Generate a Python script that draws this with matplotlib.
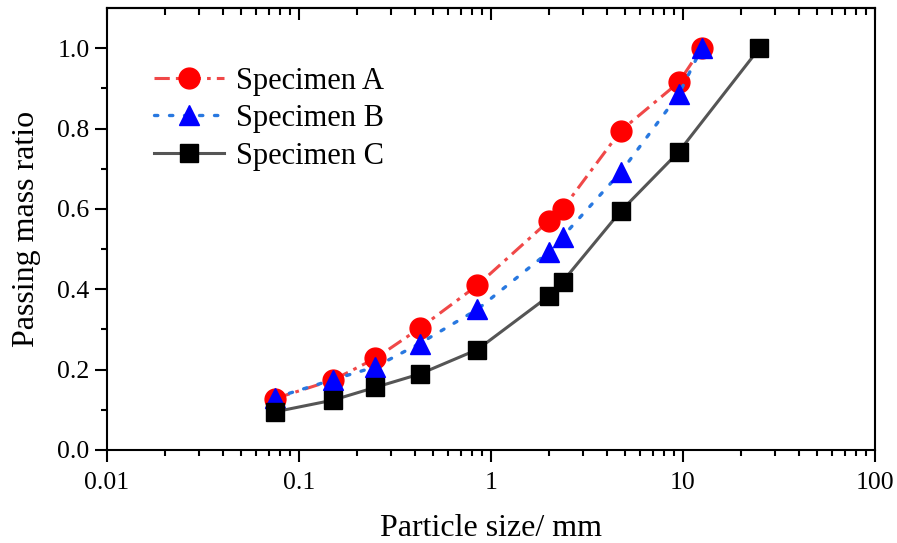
import matplotlib
matplotlib.use("Agg")
import matplotlib.pyplot as plt
from matplotlib.ticker import FixedLocator, FixedFormatter, FormatStrFormatter

plt.rcParams['font.family'] = ['Liberation Serif', 'DejaVu Serif']

# sieve sizes (mm) and passing mass ratios
size_a = [0.075, 0.15, 0.25, 0.425, 0.85, 2.0, 2.36, 4.75, 9.5, 12.5]
pass_a = [0.128, 0.174, 0.228, 0.303, 0.410, 0.570, 0.600, 0.795, 0.915, 1.0]

size_b = [0.075, 0.15, 0.25, 0.425, 0.85, 2.0, 2.36, 4.75, 9.5, 12.5]
pass_b = [0.130, 0.175, 0.207, 0.265, 0.350, 0.493, 0.531, 0.692, 0.885, 1.0]

size_c = [0.075, 0.15, 0.25, 0.425, 0.85, 2.0, 2.36, 4.75, 9.5, 25.0]
pass_c = [0.095, 0.124, 0.156, 0.189, 0.250, 0.383, 0.419, 0.595, 0.742, 1.0]

x_ticks = [0.01, 0.1, 1, 10, 100]
x_tick_labels = ["0.01", "0.1", "1", "10", "100"]

fig = plt.figure(figsize=(8.97, 5.43), dpi=100)
ax = fig.add_axes([107 / 897, 93 / 543, 768 / 897, 442 / 543])

ax.plot(size_a, pass_a, color='#f04848', linestyle=(0, (5, 2, 1.2, 2)), linewidth=2.2,
        marker='o', markersize=15, markerfacecolor='#ff0000', markeredgecolor='#ff0000',
        label='Specimen A')
ax.plot(size_b, pass_b, color='#2878e0', linestyle=(0, (1, 3.5)), linewidth=2.4,
        dash_capstyle='round', marker='^', markersize=15, markerfacecolor='#0000ff',
        markeredgecolor='#0000ff', label='Specimen B')
ax.plot(size_c, pass_c, color='#555555', linestyle='-', linewidth=2.2,
        marker='s', markersize=13, markerfacecolor='#000000', markeredgecolor='#000000',
        label='Specimen C')

ax.set_xscale('log')
ax.set_xlim(0.01, 100)
ax.set_ylim(0, 1.1)

ax.xaxis.set_major_locator(FixedLocator(x_ticks))
ax.xaxis.set_major_formatter(FixedFormatter(x_tick_labels))
ax.yaxis.set_major_locator(FixedLocator([0.0, 0.2, 0.4, 0.6, 0.8, 1.0]))
ax.yaxis.set_minor_locator(FixedLocator([0.1, 0.3, 0.5, 0.7, 0.9]))
ax.yaxis.set_major_formatter(FormatStrFormatter('%.1f'))

for s in ax.spines.values():
    s.set_linewidth(1.5)

ax.tick_params(axis='both', which='major', direction='out', length=8.5, width=1.5,
               labelsize=18.5)
ax.tick_params(axis='x', which='major', pad=7)
ax.tick_params(axis='y', which='major', pad=4)
ax.tick_params(axis='both', which='minor', direction='out', length=4.5, width=1.5)
ax.tick_params(right=False, top=False)

# inward ticks along the top edge
top = ax.secondary_xaxis('top')
top.tick_params(which='major', direction='in', length=8.5, width=1.5, labeltop=False)
top.tick_params(which='minor', direction='in', length=5, width=1.5)
top.spines['top'].set_linewidth(1.5)

ax.set_xlabel('Particle size/ mm', fontsize=23, labelpad=15)
ax.set_ylabel('Passing mass ratio', fontsize=23, labelpad=12)

ax.legend(loc='upper left', bbox_to_anchor=(0.045, 0.895), frameon=False, fontsize=22,
          handlelength=2.3, handletextpad=0.4, labelspacing=0.28, borderaxespad=0)

fig.savefig('out.png', dpi=100)
